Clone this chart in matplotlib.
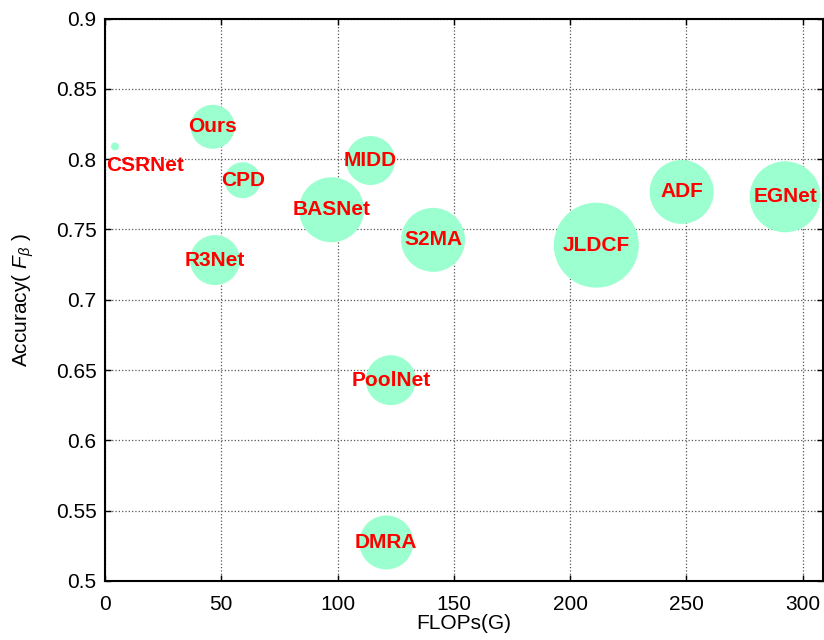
import matplotlib
matplotlib.use("Agg")
import matplotlib.pyplot as plt

plt.rcParams["font.family"] = ["Liberation Sans", "DejaVu Sans"]
plt.rcParams["mathtext.fontset"] = "custom"
plt.rcParams["mathtext.it"] = "Liberation Sans:italic"
plt.rcParams["mathtext.rm"] = "Liberation Sans"

# model name, FLOPs(G), accuracy (F_beta), bubble size (radius, px)
models = ["CSRNet", "Ours", "CPD", "MIDD", "BASNet", "S2MA", "R3Net",
          "JLDCF", "ADF", "EGNet", "PoolNet", "DMRA"]
flops = [4.3, 46.3, 59.2, 114.2, 97.4, 141.1, 47.3, 211.3, 248.0, 292.5, 122.9, 121.0]
accuracy = [0.809, 0.823, 0.785, 0.799, 0.764, 0.7426, 0.7282, 0.7388, 0.7767, 0.7732, 0.6428, 0.5274]
bubble = [4, 22, 18, 24.5, 32.5, 32, 25, 42.5, 32, 35.5, 25, 27]

fig = plt.figure(figsize=(8.24, 6.4), dpi=100)
ax = fig.add_axes([105 / 824, 1 - 581 / 640, 718 / 824, 562.5 / 640])

sizes = [(1.44 * r) ** 2 for r in bubble]
ax.scatter(flops, accuracy, s=sizes, c="#9cffcf", edgecolors="none", zorder=2)

for name, x, y in zip(models, flops, accuracy):
    if name == "CSRNet":
        ax.annotate(name, (x, y), xytext=(22, -14), textcoords="offset points",
                    ha="center", va="center", color="red", fontsize=15,
                    fontweight="bold", zorder=3)
    else:
        ax.text(x, y, name, ha="center", va="center", color="red", fontsize=15,
                fontweight="bold", zorder=3)

ax.set_xlim(0, 308.8)
ax.set_ylim(0.5, 0.9)
ax.set_xticks([0, 50, 100, 150, 200, 250, 300])
ax.set_yticks([0.5, 0.55, 0.6, 0.65, 0.7, 0.75, 0.8, 0.85, 0.9])
ax.set_yticklabels(["0.5", "0.55", "0.6", "0.65", "0.7", "0.75", "0.8", "0.85", "0.9"])
ax.tick_params(direction="in", length=4, width=1, labelsize=15, top=True, right=True)
ax.tick_params(axis="x", pad=10)
ax.tick_params(axis="y", pad=6)
ax.set_axisbelow(True)
ax.grid(True, color="#555555", linestyle=":", linewidth=0.9)
for sp in ax.spines.values():
    sp.set_linewidth(1.5)

ax.set_xlabel("FLOPs(G)", fontsize=15, labelpad=0)
ax.set_ylabel(r"Accuracy( $F_{\beta}$ )", fontsize=15, labelpad=14)

fig.savefig("out.png", dpi=100)
